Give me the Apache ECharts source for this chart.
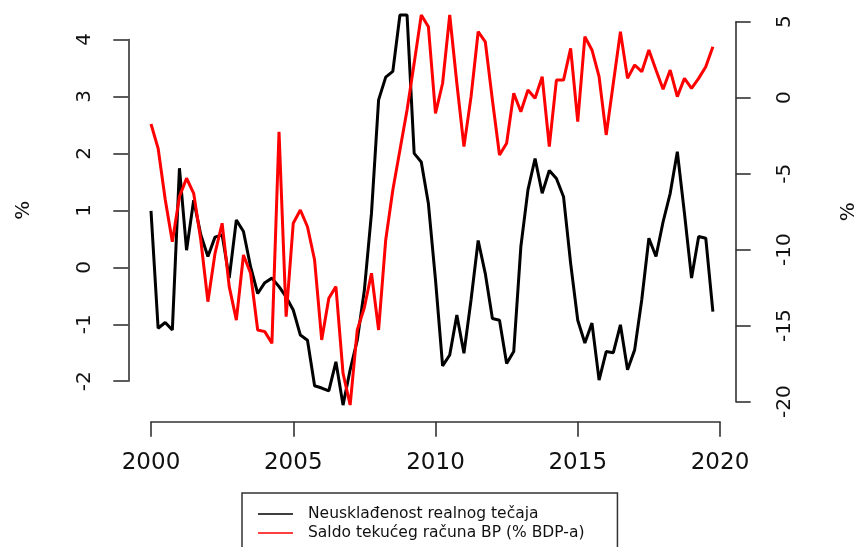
<!DOCTYPE html>
<html>
<head>
<meta charset="utf-8">
<script src="https://cdn.jsdelivr.net/npm/echarts@6/dist/echarts.min.js"></script>
<style>
  html, body { margin: 0; background: #fff; }
  #chart { width: 855px; height: 547px; }
</style>
</head>
<body>
<div id="chart"></div>
<script>
// kvartalni podaci, 2000Q1 - 2019Q4
const startYear = 2000;
const seriesNames = ["Neusklađenost realnog tečaja", "Saldo tekućeg računa BP (% BDP-a)"];

// lijeva os, %
const misalignment = [
  0.99, -1.07, -0.97, -1.10, 1.74, 0.30, 1.18, 0.57, 0.19, 0.53,
  0.57, -0.19, 0.83, 0.63, 0.01, -0.46, -0.27, -0.19, -0.34, -0.52,
  -0.75, -1.19, -1.28, -2.08, -2.12, -2.17, -1.66, -2.42, -1.80, -1.28,
  -0.40, 0.95, 2.94, 3.34, 3.44, 4.43, 4.43, 2.00, 1.85, 1.12,
  -0.22, -1.73, -1.54, -0.84, -1.51, -0.57, 0.47, -0.11, -0.90, -0.93,
  -1.69, -1.48, 0.36, 1.36, 1.91, 1.30, 1.70, 1.56, 1.24, 0.07,
  -0.93, -1.33, -0.98, -1.98, -1.48, -1.50, -1.01, -1.80, -1.45, -0.57,
  0.51, 0.19, 0.80, 1.30, 2.03, 0.95, -0.19, 0.54, 0.51, -0.78
];

// desna os, % BDP-a
const currentAccount = [
  -1.73, -3.33, -6.70, -9.47, -6.51, -5.30, -6.29, -9.36, -13.42, -10.24,
  -8.26, -12.43, -14.63, -10.35, -11.55, -15.28, -15.39, -16.16, -2.24, -14.41,
  -8.26, -7.39, -8.49, -10.68, -15.94, -13.20, -12.43, -18.13, -20.22, -15.28,
  -13.80, -11.55, -15.28, -9.36, -6.07, -3.44, -0.81, 2.26, 5.44, 4.67,
  -1.03, 0.95, 5.44, 0.95, -3.22, 0.07, 4.34, 3.68, -0.15, -3.77,
  -3.00, 0.29, -0.92, 0.51, -0.04, 1.38, -3.22, 1.16, 1.16, 3.25,
  -1.58, 4.01, 3.14, 1.38, -2.45, 0.95, 4.34, 1.27, 2.15, 1.71,
  3.14, 1.82, 0.55, 1.82, 0.07, 1.27, 0.62, 1.27, 2.04, 3.36
];

const font = "DejaVu Sans";
const axisColor = "#333";

function toPoints(values) {
  return values.map((v, i) => [startYear + i / 4, v]);
}

const option = {
  animation: false,
  backgroundColor: "#fff",
  // dvije mreže iste širine, svaka za svoju y-os (kao par() u R-u)
  grid: [
    { left: 151, right: 135, top: 39.5, bottom: 165.8, outerBoundsMode: "none" },
    { left: 151, right: 135, top: 21.7, bottom: 145.3, outerBoundsMode: "none" }
  ],
  xAxis: [
    {
      gridIndex: 0,
      type: "value",
      min: 2000,
      max: 2020,
      interval: 5,
      offset: 40.5,
      axisLine: { onZero: false, lineStyle: { color: axisColor, width: 1.6 } },
      axisTick: { length: 15, lineStyle: { color: axisColor, width: 1.6 } },
      axisLabel: {
        fontFamily: font, fontSize: 23, color: "#111", margin: 30,
        formatter: v => String(v)
      },
      splitLine: { show: false }
    },
    { gridIndex: 1, type: "value", min: 2000, max: 2020, show: false }
  ],
  yAxis: [
    {
      gridIndex: 0,
      type: "value",
      position: "left",
      min: -2,
      max: 4,
      interval: 1,
      offset: 22.7,
      name: "%",
      nameLocation: "middle",
      nameRotate: 90,
      nameGap: 95,
      nameTextStyle: { fontFamily: font, fontSize: 20, color: "#111" },
      axisLine: { show: true, onZero: false, lineStyle: { color: axisColor, width: 1.6 } },
      axisTick: { show: true, length: 15, lineStyle: { color: axisColor, width: 1.6 } },
      axisLabel: { rotate: 90, fontFamily: font, fontSize: 20, color: "#111", margin: 34 },
      splitLine: { show: false }
    },
    {
      gridIndex: 1,
      type: "value",
      position: "right",
      min: -20,
      max: 5,
      interval: 5,
      offset: 15.7,
      name: "%",
      nameLocation: "middle",
      nameRotate: 90,
      nameGap: 103,
      nameTextStyle: { fontFamily: font, fontSize: 20, color: "#111" },
      axisLine: { show: true, onZero: false, lineStyle: { color: axisColor, width: 1.6 } },
      axisTick: { show: true, length: 15, lineStyle: { color: axisColor, width: 1.6 } },
      axisLabel: { rotate: 90, fontFamily: font, fontSize: 20, color: "#111", margin: 39 },
      splitLine: { show: false }
    }
  ],
  legend: {
    orient: "vertical",
    left: 242,
    top: 493,
    height: 70,
    data: seriesNames,
    icon: "path://M0 0H70V3H0Z",
    itemWidth: 35,
    itemHeight: 16,
    itemGap: 3,
    padding: [13, 33, 20, 16],
    borderColor: axisColor,
    borderWidth: 1.5,
    textStyle: { fontFamily: font, fontSize: 15.5, color: "#111", lineHeight: 16, padding: [0, 0, 0, 10] }
  },
  series: [
    {
      name: seriesNames[0],
      type: "line",
      xAxisIndex: 0,
      yAxisIndex: 0,
      data: toPoints(misalignment),
      symbol: "none",
      clip: false,
      lineStyle: { color: "#000", width: 3 },
      itemStyle: { color: "#000" }
    },
    {
      name: seriesNames[1],
      type: "line",
      xAxisIndex: 1,
      yAxisIndex: 1,
      data: toPoints(currentAccount),
      symbol: "none",
      clip: false,
      lineStyle: { color: "#ff0000", width: 3 },
      itemStyle: { color: "#ff0000" }
    }
  ]
};

const chart = echarts.init(document.getElementById("chart"));
chart.setOption(option);
</script>
</body>
</html>
